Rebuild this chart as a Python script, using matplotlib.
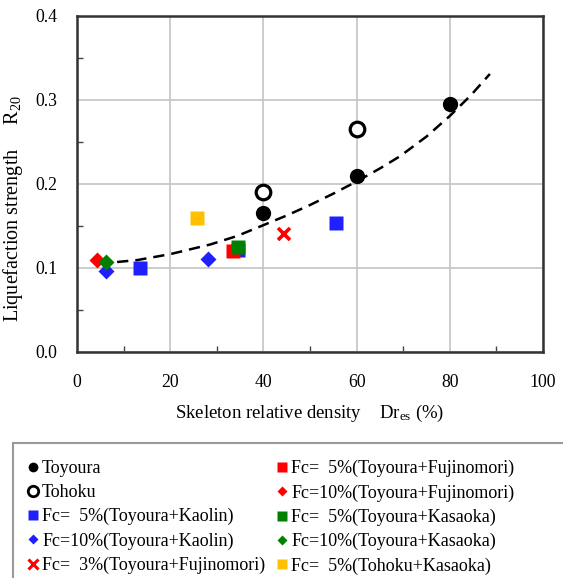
import matplotlib
matplotlib.use("Agg")
import matplotlib.pyplot as plt
from matplotlib.lines import Line2D
from matplotlib.patches import Rectangle
from matplotlib.ticker import MultipleLocator

plt.rcParams['font.family'] = ['Liberation Serif', 'DejaVu Serif']
plt.rcParams['mathtext.fontset'] = 'custom'
plt.rcParams['mathtext.rm'] = 'Liberation Serif'
plt.rcParams['mathtext.it'] = 'Liberation Serif:italic'

# ---- data ----
toyoura_x = [40, 60, 80]
toyoura_y = [0.165, 0.21, 0.295]
tohoku_x = [40, 60]
tohoku_y = [0.19, 0.265]
kaolin5_x = [13.6, 34.6, 55.6]
kaolin5_y = [0.100, 0.121, 0.154]
kaolin10_x = [6.2, 28.2]
kaolin10_y = [0.096, 0.111]
fuji3_x = [44.5]
fuji3_y = [0.140]
fuji5_x = [33.5]
fuji5_y = [0.120]
fuji10_x = [4.2]
fuji10_y = [0.110]
kasa5_x = [34.6]
kasa5_y = [0.125]
kasa10_x = [6.2]
kasa10_y = [0.107]
tohokukasa5_x = [25.8]
tohokukasa5_y = [0.160]
# trend curve
trend_x = [4.7, 8.0, 13.0, 20.0, 28.6, 34.3, 40.0, 45.0, 50.0, 55.0, 60.0, 65.0, 69.3, 75.0, 80.0, 84.5, 88.6]
trend_y = [0.106, 0.1068, 0.1095, 0.1165, 0.128, 0.138, 0.151, 0.1625, 0.175, 0.1885, 0.203, 0.2185, 0.233, 0.2565, 0.281, 0.3055, 0.331]

x_ticks = [0, 20, 40, 60, 80, 100]
y_ticks = [0.0, 0.1, 0.2, 0.3, 0.4]

BLUE = '#2020FF'
RED = '#FF0000'
GREEN = '#008000'
YELLOW = '#FFC000'

W, H = 563, 578
fig = plt.figure(figsize=(W / 100, H / 100), dpi=100)
ax = fig.add_axes([77 / W, 1 - 352 / H, (543 - 77) / W, (352 - 16) / H])

ax.plot(trend_x, trend_y, color='black', lw=1.8, ls=(0, (4.5, 2.8)), zorder=3)

ms = 10
ax.plot(kaolin5_x, kaolin5_y, 's', color=BLUE, ms=ms, mec='none', zorder=4)
ax.plot(fuji5_x, fuji5_y, 's', color=RED, ms=ms, mec='none', zorder=5)
ax.plot(kasa5_x, kasa5_y, 's', color=GREEN, ms=ms, mec='none', zorder=6)
ax.plot(tohokukasa5_x, tohokukasa5_y, 's', color=YELLOW, ms=ms, mec='none', zorder=4)
ax.plot(kaolin10_x, kaolin10_y, 'D', color=BLUE, ms=8.5, mec='none', zorder=4)
ax.plot(fuji10_x, fuji10_y, 'D', color=RED, ms=8.5, mec='none', zorder=4)
ax.plot(kasa10_x, kasa10_y, 'D', color=GREEN, ms=8.5, mec='none', zorder=5)
ax.plot(fuji3_x, fuji3_y, 'x', color=RED, ms=9, mew=2.6, zorder=4)
ax.plot(toyoura_x, toyoura_y, 'o', color='black', ms=11, mec='none', zorder=4)
ax.plot(tohoku_x, tohoku_y, 'o', mfc='white', mec='black', ms=10.5, mew=2.3, zorder=4)

ax.set_xlim(0, 100)
ax.set_ylim(0, 0.4)
ax.set_xticks(x_ticks)
ax.set_yticks(y_ticks)
ax.set_xticklabels([str(v) for v in x_ticks])
ax.set_yticklabels([f'{v:.1f}' for v in y_ticks])
ax.xaxis.set_minor_locator(MultipleLocator(10))
ax.yaxis.set_minor_locator(MultipleLocator(0.05))
ax.tick_params(which='both', direction='in', labelsize=12.8, color='#444444')
ax.tick_params(which='major', length=0, pad=14)
ax.tick_params(which='minor', length=4, width=1)
ax.tick_params(axis='x', which='major', pad=16)
ax.grid(True, which='major', color='#C8C8C8', lw=1.3)
ax.set_axisbelow(True)
for s in ax.spines.values():
    s.set_linewidth(1.8)
    s.set_color('#333333')

ax.set_xlabel('Skeleton relative density    Dr$_{\\rm es}$ (%)', fontsize=13.5)
ax.xaxis.set_label_coords(0.5, -0.152)
ax.set_ylabel('Liquefaction strength     R$_{20}$', fontsize=14.5)
ax.yaxis.set_label_coords(-0.112, 0.426)

# legend box
fig.patches.append(Rectangle((13 / W, -0.05), 1.0, 1 - 443 / H + 0.05,
                             transform=fig.transFigure, fill=False,
                             edgecolor='#999999', lw=1.5))

handles = [
    Line2D([], [], ls='none', marker='o', color='black', ms=7, mec='none'),
    Line2D([], [], ls='none', marker='o', mfc='white', mec='black', ms=7.5, mew=2),
    Line2D([], [], ls='none', marker='s', color=BLUE, ms=7.5, mec='none'),
    Line2D([], [], ls='none', marker='D', color=BLUE, ms=5.5, mec='none'),
    Line2D([], [], ls='none', marker='x', color=RED, ms=7.5, mew=2.2),
    Line2D([], [], ls='none', marker='s', color=RED, ms=7.5, mec='none'),
    Line2D([], [], ls='none', marker='D', color=RED, ms=5.5, mec='none'),
    Line2D([], [], ls='none', marker='s', color=GREEN, ms=7.5, mec='none'),
    Line2D([], [], ls='none', marker='D', color=GREEN, ms=5.5, mec='none'),
    Line2D([], [], ls='none', marker='s', color=YELLOW, ms=7.5, mec='none'),
]
labels = [
    'Toyoura',
    'Tohoku',
    'Fc=  5%(Toyoura+Kaolin)',
    'Fc=10%(Toyoura+Kaolin)',
    'Fc=  3%(Toyoura+Fujinomori)',
    'Fc=  5%(Toyoura+Fujinomori)',
    'Fc=10%(Toyoura+Fujinomori)',
    'Fc=  5%(Toyoura+Kasaoka)',
    'Fc=10%(Toyoura+Kasaoka)',
    'Fc=  5%(Tohoku+Kasaoka)',
]
leg_kw = dict(loc='upper left', frameon=False, fontsize=13, handlelength=0.6,
              handletextpad=0.2, labelspacing=0.39, borderpad=0, borderaxespad=0)
hl = 13 * 0.6 * 100 / 72 / 2
l1 = fig.legend(handles[:5], labels[:5],
                bbox_to_anchor=((33 - hl) / W, 1 - 460 / H), **leg_kw)
l2 = fig.legend(handles[5:], labels[5:],
                bbox_to_anchor=((282 - hl) / W, 1 - 460 / H), **leg_kw)

fig.savefig('out.png', dpi=100)
